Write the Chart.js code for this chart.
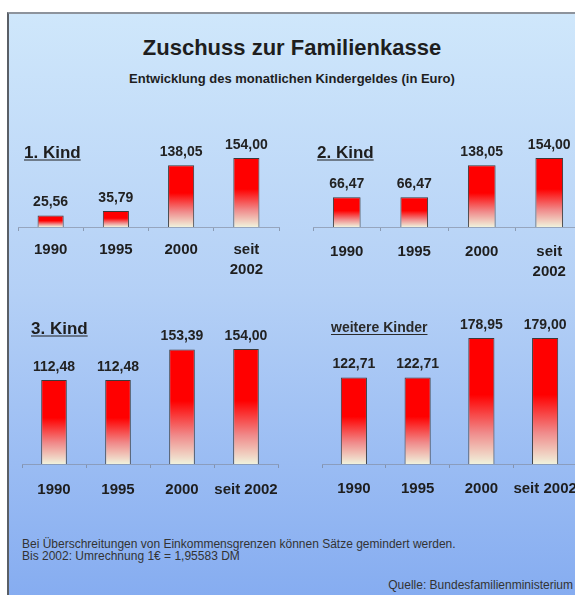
<!DOCTYPE html>
<html><head><meta charset="utf-8">
<script src="https://cdn.jsdelivr.net/npm/chart.js@4.4.1/dist/chart.umd.min.js"></script>
<style>
html,body{margin:0;padding:0;width:575px;height:595px;overflow:hidden;background:#fff;font-family:"Liberation Sans",Arial,sans-serif;}
#panel{position:absolute;left:7px;top:12px;width:620px;height:620px;border-left:2px solid #5a5f66;border-top:2px solid #8d939c;background:linear-gradient(to bottom,#cfe7fb 0%,#b4d0f6 45%,#80a8f0 100%);}
.t{position:absolute;white-space:nowrap;color:#1e1e1e;font-weight:bold;line-height:1;}
.c{transform:translate(-50%,-50%);}
.l{transform:translateY(-50%);}
.u{text-decoration:underline;text-underline-offset:2px;}
canvas{position:absolute;}
</style></head>
<body>
<div id="panel"></div>
<canvas id="c1"></canvas><canvas id="c2"></canvas><canvas id="c3"></canvas><canvas id="c4"></canvas>
<div class="t c" style="left:292px;top:48px;font-size:22px;">Zuschuss zur Familienkasse</div>
<div class="t c" style="left:292px;top:78px;font-size:13px;">Entwicklung des monatlichen Kindergeldes (in Euro)</div>
<div class="t l u" style="left:24px;top:152px;font-size:17px;">1. Kind</div>
<div class="t l u" style="left:317px;top:152px;font-size:17px;">2. Kind</div>
<div class="t l u" style="left:31px;top:328px;font-size:17px;">3. Kind</div>
<div class="t l u" style="left:331px;top:327px;font-size:14px;color:#2a2a2a;">weitere Kinder</div>
<div class="t" style="left:22px;top:538px;font-size:12px;line-height:12px;font-weight:normal;color:#333;">Bei Überschreitungen von Einkommensgrenzen können Sätze gemindert werden.<br>Bis 2002: Umrechnung 1€ = 1,95583 DM</div>
<div class="t" style="right:2px;top:579px;font-size:12px;line-height:12px;font-weight:normal;color:#333;">Quelle: Bundesfamilienministerium</div>
<script>
const categories = ['1990', '1995', '2000', 'seit 2002'];
const kind1 = [25.56, 35.79, 138.05, 154.00];
const kind2 = [66.47, 66.47, 138.05, 154.00];
const kind3 = [112.48, 112.48, 153.39, 154.00];
const weitereKinder = [122.71, 122.71, 178.95, 179.00];

function fmt(v){ return v.toFixed(2).replace('.', ','); }

const valueLabelPlugin = {
  id: 'valueLabels',
  afterDatasetsDraw(chart){
    const ctx = chart.ctx;
    const meta = chart.getDatasetMeta(0);
    const data = chart.data.datasets[0].data;
    ctx.save();
    ctx.font = 'bold 14px "Liberation Sans", Arial, sans-serif';
    ctx.fillStyle = '#222';
    ctx.textAlign = 'center';
    ctx.textBaseline = 'middle';
    meta.data.forEach((bar, i) => ctx.fillText(fmt(data[i]), bar.x, bar.y - 13));
    ctx.restore();
  }
};

function barGradient(c){
  const chart = c.chart, y = chart.scales.y;
  if (!y || c.raw == null || !chart.chartArea) return '#ff0000';
  const top = y.getPixelForValue(c.raw), base = y.getPixelForValue(0);
  const g = chart.ctx.createLinearGradient(0, top, 0, base);
  g.addColorStop(0, '#ff0000');
  g.addColorStop(0.45, '#ff0000');
  g.addColorStop(0.75, '#f08a8a');
  g.addColorStop(1, '#f0f2dc');
  return g;
}

function makeChart(id, values, labels, g){
  const cv = document.getElementById(id);
  cv.width = g.w; cv.height = g.h;
  cv.style.left = g.left + 'px'; cv.style.top = g.top + 'px';
  cv.style.width = g.w + 'px'; cv.style.height = g.h + 'px';
  const ymax = 200;
  const padTop = g.axY - ymax * g.ppu - g.top;
  const axisH = g.top + g.h - g.axY;
  return new Chart(cv, {
    type: 'bar',
    data: { labels: labels, datasets: [{ data: values, backgroundColor: barGradient, borderColor: '#3a3a3a', borderWidth: 1, barPercentage: g.bp, categoryPercentage: 1 }] },
    options: {
      responsive: false, animation: false, devicePixelRatio: 1,
      layout: { padding: { left: g.axL - g.left, right: g.left + g.w - g.axR, top: padTop, bottom: 0 } },
      plugins: { legend: { display: false }, tooltip: { enabled: false } },
      scales: {
        y: { display: false, min: 0, max: ymax },
        x: {
          afterFit(scale){ scale.height = axisH; },
          border: { display: true, color: 'rgba(130,140,160,0.65)', width: 1 },
          grid: { display: true, drawOnChartArea: false, drawTicks: true, tickLength: 4, color: 'rgba(120,130,150,0.7)' },
          ticks: { color: '#1e1e1e', padding: g.pad, maxRotation: 0, autoSkip: false, font: { family: '"Liberation Sans", Arial, sans-serif', size: 15, weight: 'bold', lineHeight: '20px' } }
        }
      }
    },
    plugins: [valueLabelPlugin]
  });
}

const twoLine = categories.map(c => c.split(' '));
makeChart('c1', kind1, twoLine, { left: 7, top: 125, w: 290, h: 165, axL: 18, axR: 279, axY: 227, ppu: 0.448, pad: 9, bp: 0.4 });
makeChart('c2', kind2, twoLine, { left: 295, top: 125, w: 300, h: 165, axL: 313, axR: 583, axY: 227, ppu: 0.448, pad: 11, bp: 0.41 });
makeChart('c3', kind3, categories, { left: 7, top: 312, w: 290, h: 200, axL: 22, axR: 278, axY: 464, ppu: 0.747, pad: 12, bp: 0.4 });
makeChart('c4', weitereKinder, categories, { left: 295, top: 312, w: 300, h: 200, axL: 322, axR: 577, axY: 464, ppu: 0.704, pad: 11, bp: 0.41 });
</script>
</body></html>
